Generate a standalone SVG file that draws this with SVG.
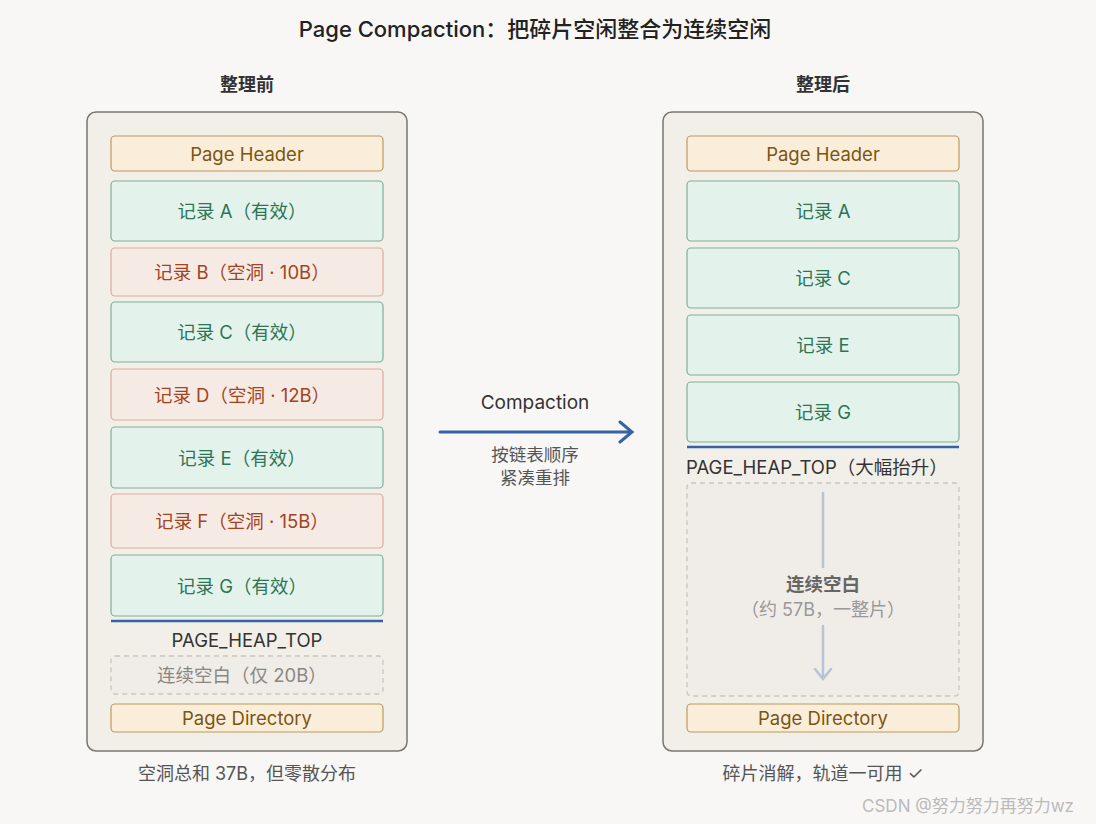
<svg xmlns="http://www.w3.org/2000/svg" width="1096" height="824" viewBox="0 0 1096 824">
<style>
text{font-family:"Inter","Noto Sans CJK SC",sans-serif;text-anchor:middle;dominant-baseline:central}
.panel{fill:#f2efe9;stroke:#7a7670;stroke-width:1.5}
.hdr{fill:#faeedb;stroke:#bb9a5e;stroke-width:1.2}
.hdr-t{fill:#7d5510;font-size:18.5px}
.ok{fill:#e3f3ec;stroke:#7fae98;stroke-width:1.2}
.ok-t{fill:#2e7555;font-size:18.5px}
.hole{fill:#f6ebe4;stroke:#d8ad9c;stroke-width:1.2}
.hole-t{fill:#a3441f;font-size:18.5px}
.free{fill:#f0ede8;stroke:#c9c6c1;stroke-width:1.3;stroke-dasharray:5 4}
.lbl{fill:#333;font-size:18.5px}
.h{fill:#333;font-size:18px;font-weight:bold}
.cap{fill:#555;font-size:18px}
</style>
<rect width="1096" height="824" fill="#f8f7f5"/>
<text x="535" y="29" style="font-size:22px;fill:#222;font-weight:500">Page Compaction：把碎片空闲整合为连续空闲</text>
<text class="h" x="247" y="84">整理前</text>
<text class="h" x="823" y="84">整理后</text>
<g id="left">
<rect class="panel" x="87" y="112" width="320" height="639" rx="9"/>
<g id="l-header"><rect class="hdr" x="111" y="136" width="272" height="35" rx="4"/><text class="hdr-t" x="247" y="154">Page Header</text></g>
<g id="l-a"><rect class="ok" x="111" y="181" width="272" height="60" rx="4"/><text class="ok-t" x="242" y="211">记录 A（有效）</text></g>
<g id="l-b"><rect class="hole" x="111" y="248" width="272" height="48" rx="4"/><text class="hole-t" x="242" y="272">记录 B（空洞 · 10B）</text></g>
<g id="l-c"><rect class="ok" x="111" y="302" width="272" height="60" rx="4"/><text class="ok-t" x="242" y="332">记录 C（有效）</text></g>
<g id="l-d"><rect class="hole" x="111" y="369" width="272" height="51" rx="4"/><text class="hole-t" x="242" y="395">记录 D（空洞 · 12B）</text></g>
<g id="l-e"><rect class="ok" x="111" y="427" width="272" height="61" rx="4"/><text class="ok-t" x="242" y="458">记录 E（有效）</text></g>
<g id="l-f"><rect class="hole" x="111" y="494" width="272" height="54" rx="4"/><text class="hole-t" x="242" y="521">记录 F（空洞 · 15B）</text></g>
<g id="l-g"><rect class="ok" x="111" y="555" width="272" height="61" rx="4"/><text class="ok-t" x="242" y="586">记录 G（有效）</text></g>
<line x1="111" y1="621" x2="383" y2="621" stroke="#3563a8" stroke-width="2.5"/>
<text class="lbl" x="247" y="640">PAGE_HEAP_TOP</text>
<g id="l-free"><rect class="free" x="111" y="656" width="272" height="38" rx="4"/><text x="242" y="675" style="fill:#8a8782;font-size:18.5px">连续空白（仅 20B）</text></g>
<g id="l-dir"><rect class="hdr" x="111" y="704" width="272" height="28" rx="4"/><text class="hdr-t" x="247" y="718">Page Directory</text></g>
</g>
<text class="cap" x="247" y="773">空洞总和 37B，但零散分布</text>
<g id="right">
<rect class="panel" x="663" y="112" width="320" height="639" rx="9"/>
<g id="r-header"><rect class="hdr" x="687" y="136" width="272" height="35" rx="4"/><text class="hdr-t" x="823" y="154">Page Header</text></g>
<g id="r-a"><rect class="ok" x="687" y="181" width="272" height="60" rx="4"/><text class="ok-t" x="823" y="211">记录 A</text></g>
<g id="r-c"><rect class="ok" x="687" y="248" width="272" height="60" rx="4"/><text class="ok-t" x="823" y="278">记录 C</text></g>
<g id="r-e"><rect class="ok" x="687" y="315" width="272" height="60" rx="4"/><text class="ok-t" x="823" y="345">记录 E</text></g>
<g id="r-g"><rect class="ok" x="687" y="382" width="272" height="60" rx="4"/><text class="ok-t" x="823" y="412">记录 G</text></g>
<line x1="687" y1="447" x2="959" y2="447" stroke="#3563a8" stroke-width="2.5"/>
<text class="lbl" x="686" y="467" style="text-anchor:start">PAGE_HEAP_TOP（大幅抬升）</text>
<g id="r-free"><rect class="free" x="687" y="483" width="272" height="213" rx="4"/>
<text x="823" y="584" style="fill:#666;font-size:18.5px;font-weight:bold">连续空白</text>
<text x="823" y="609" style="fill:#999;font-size:18px">（约 57B，一整片）</text></g>
<g id="r-dir"><rect class="hdr" x="687" y="704" width="272" height="28" rx="4"/><text class="hdr-t" x="823" y="718">Page Directory</text></g>
</g>
<text class="cap" x="823" y="773">碎片消解，轨道一可用 ✓</text>
<g id="connectors" fill="none" stroke-linecap="round">
<path d="M823 493V567M823 626V678M815 669L823 679L831 669" stroke="#b7c4d4" stroke-width="2.5"/>
<path d="M440 432H631M620 422L632 432L620 442" stroke="#3563a8" stroke-width="3"/>
</g>
<text x="535" y="402" style="fill:#333;font-size:19px">Compaction</text>
<text x="535" y="454" style="fill:#555;font-size:17.5px">按链表顺序</text>
<text x="535" y="477" style="fill:#555;font-size:17.5px">紧凑重排</text>
<text x="968" y="806" style="fill:#bbb;font-size:17px">CSDN @努力努力再努力wz</text>
</svg>
